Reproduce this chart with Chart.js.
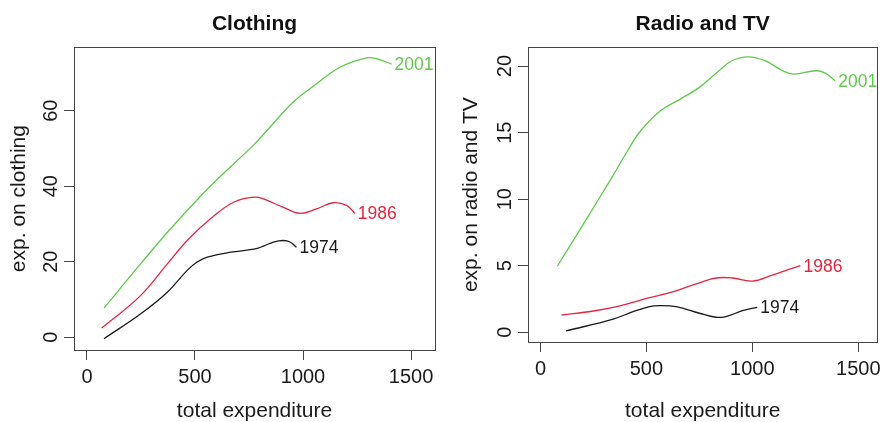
<!DOCTYPE html>
<html>
<head>
<meta charset="utf-8">
<script src="https://cdn.jsdelivr.net/npm/chart.js@4"></script>
<style>
  html, body { margin: 0; padding: 0; background: #fff; }
  #wrap { position: relative; width: 886px; height: 422px; }
  .panel { position: absolute; top: 0; width: 443px; height: 422px; }
</style>
</head>
<body>
<div id="wrap">
  <div class="panel" style="left:0"><canvas id="c1" width="443" height="422"></canvas></div>
  <div class="panel" style="left:443px"><canvas id="c2" width="443" height="422"></canvas></div>
</div>
<script>
// ---------- data ----------
const seriesNames = ['1974', '1986', '2001'];
const xTickValues = [0, 500, 1000, 1500];
const clothingYTicks = [0, 20, 40, 60];
const radioYTicks = [0, 5, 10, 15, 20];

// Clothing panel
const clothX1974 = [79, 249, 372, 464, 510, 557, 665, 773, 817, 863, 909, 940, 970];
const clothY1974 = [-0.4, 6.2, 11.9, 17.7, 19.9, 21.2, 22.5, 23.3, 24.1, 25.2, 25.6, 25.2, 23.8];
const clothX1986 = [68, 248, 372, 464, 573, 681, 778, 817, 909, 986, 1063, 1140, 1202, 1240];
const clothY1986 = [2.4, 11.0, 19.4, 25.6, 31.4, 35.8, 37.1, 36.6, 34.4, 32.8, 34.0, 35.6, 34.9, 32.8];
const clothX2001 = [79, 248, 387, 573, 773, 847, 955, 1063, 1171, 1295, 1350, 1410];
const clothY2001 = [7.7, 19.4, 28.7, 40.1, 51.0, 55.6, 62.3, 67.1, 71.5, 74.0, 73.6, 72.3];

// Radio and TV panel
const radioX1974 = [121, 343, 437, 515, 562, 640, 750, 828, 875, 953, 1023];
const radioY1974 = [0.10, 0.99, 1.55, 1.93, 2.0, 1.92, 1.43, 1.13, 1.18, 1.62, 1.88];
const radioX1986 = [100, 249, 359, 515, 640, 750, 828, 906, 1000, 1094, 1172, 1227];
const radioY1986 = [1.30, 1.60, 1.93, 2.60, 3.12, 3.72, 4.08, 4.08, 3.85, 4.30, 4.73, 5.0];
const radioX2001 = [80, 208, 333, 412, 474, 568, 662, 750, 844, 906, 980, 1062, 1141, 1195, 1300, 1344, 1391];
const radioY2001 = [4.98, 8.28, 11.53, 13.66, 15.16, 16.66, 17.54, 18.4, 19.67, 20.42, 20.7, 20.39, 19.67, 19.4, 19.65, 19.47, 18.9];

const seriesColors = ['#1a1a1a', '#E3263F', '#5EC94A'];

// ---------- helpers ----------
Chart.defaults.font.family = "'Liberation Sans', Arial, Helvetica, sans-serif";
Chart.defaults.color = '#1a1a1a';

const zip = (xs, ys) => xs.map((x, i) => ({ x: x, y: ys[i] }));

const boxPlugin = {
  id: 'box',
  afterDatasetsDraw(chart) {
    const a = chart.chartArea, ctx = chart.ctx;
    ctx.save();
    ctx.strokeStyle = '#444';
    ctx.lineWidth = 1;
    ctx.strokeRect(Math.round(a.left) + 0.5, Math.round(a.top) + 0.5,
                   Math.round(a.right - a.left), Math.round(a.bottom - a.top));
    ctx.restore();
  }
};

const endLabelPlugin = {
  id: 'endLabels',
  afterDatasetsDraw(chart) {
    const ctx = chart.ctx;
    ctx.save();
    ctx.font = "17.5px 'Liberation Sans', Arial, sans-serif";
    ctx.textAlign = 'left';
    ctx.textBaseline = 'middle';
    chart.data.datasets.forEach((ds, i) => {
      const meta = chart.getDatasetMeta(i);
      const last = meta.data[meta.data.length - 1];
      ctx.fillStyle = ds.borderColor;
      ctx.fillText(ds.label, last.x + 3, last.y + 1);
    });
    ctx.restore();
  }
};

function makeChart(canvasId, cfg) {
  const datasets = cfg.series.map((s, i) => ({
    label: seriesNames[i],
    data: zip(s[0], s[1]),
    borderColor: seriesColors[i],
    borderWidth: 1.3,
    pointRadius: 0,
    fill: false,
    tension: 0.4
  }));
  return new Chart(document.getElementById(canvasId), {
    type: 'line',
    data: { datasets: datasets },
    plugins: [boxPlugin, endLabelPlugin],
    options: {
      responsive: false,
      animation: false,
      devicePixelRatio: 1,
      layout: { padding: { left: 0, right: cfg.padRight, top: 0, bottom: 0 } },
      plugins: {
        legend: { display: false },
        tooltip: { enabled: false },
        title: {
          display: true,
          text: cfg.title,
          fullSize: false,
          color: '#111',
          font: { size: 21, weight: 'bold' },
          padding: { top: 12, bottom: 10 }
        }
      },
      scales: {
        x: {
          type: 'linear',
          min: cfg.xMin, max: cfg.xMax,
          afterBuildTicks: s => { s.ticks = xTickValues.map(v => ({ value: v })); },
          afterFit: s => { s.height = cfg.xHeight; },
          border: { display: false },
          grid: { drawOnChartArea: false, drawTicks: true, tickLength: 10, color: '#444' },
          ticks: { font: { size: 20 }, color: '#1a1a1a', padding: 5, maxRotation: 0, autoSkip: false, callback: v => String(v) },
          title: { display: true, text: 'total expenditure', font: { size: 21, lineHeight: 1.0 }, color: '#1a1a1a', padding: { top: 0, bottom: 0 } }
        },
        y: {
          type: 'linear',
          min: cfg.yMin, max: cfg.yMax,
          afterBuildTicks: s => { s.ticks = cfg.yTicks.map(v => ({ value: v })); },
          afterFit: s => { s.width = cfg.yWidth; },
          border: { display: false },
          grid: { drawOnChartArea: false, drawTicks: true, tickLength: 10, color: '#444' },
          ticks: { font: { size: 20 }, color: '#1a1a1a', padding: 1, minRotation: 90, maxRotation: 90, crossAlign: 'center', autoSkip: false, callback: v => String(v) },
          title: { display: true, text: cfg.yTitle, font: { size: 21 }, color: '#1a1a1a', padding: { top: cfg.yTitlePad, bottom: 0 } }
        }
      }
    }
  });
}

makeChart('c1', {
  title: 'Clothing',
  yTitle: 'exp. on clothing',
  series: [[clothX1974, clothY1974], [clothX1986, clothY1986], [clothX2001, clothY2001]],
  xMin: -60, xMax: 1611, yMin: -3.4, yMax: 76.8,
  yTicks: clothingYTicks,
  padRight: 8, xHeight: 72, yWidth: 74, yTitlePad: 7
});

makeChart('c2', {
  title: 'Radio and TV',
  yTitle: 'exp. on radio and TV',
  series: [[radioX1974, radioY1974], [radioX1986, radioY1986], [radioX2001, radioY2001]],
  xMin: -59, xMax: 1590, yMin: -0.73, yMax: 21.42,
  yTicks: radioYTicks,
  padRight: 7, xHeight: 80, yWidth: 85, yTitlePad: 15.7
});
</script>
</body>
</html>
